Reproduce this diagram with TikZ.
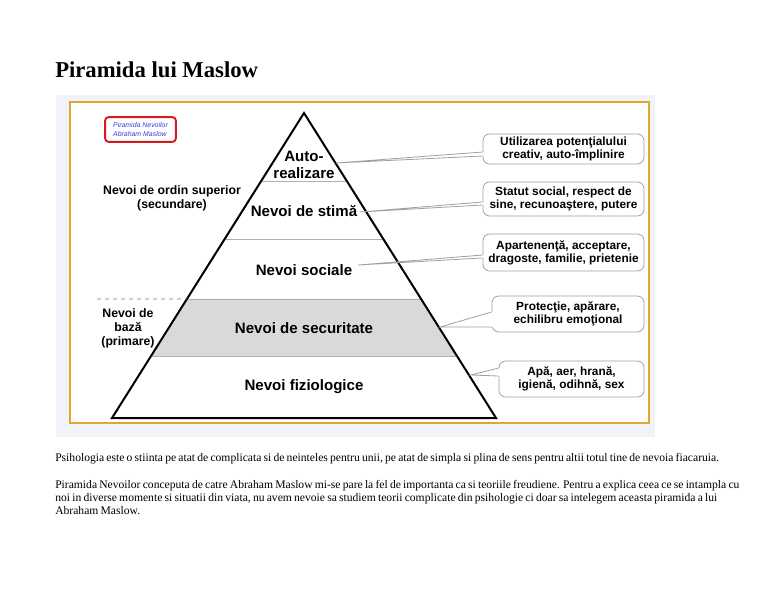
\documentclass[tikz,border=0pt]{standalone}
\usepackage{fontspec}
\setmainfont{Liberation Serif}
\setsansfont{Liberation Sans}
\usetikzlibrary{calc, positioning}
\definecolor{Auriu}{RGB}{224,168,48}
\definecolor{Fundal}{RGB}{240,243,248}
\definecolor{Banda}{RGB}{217,217,217}
\definecolor{Linie}{RGB}{175,175,175}
\definecolor{Chenar}{RGB}{160,160,160}
\definecolor{Rosu}{RGB}{215,25,30}
\definecolor{Albastru}{RGB}{60,60,225}

% coada unei bule: nod, doua decalaje pe latura stanga, varf
\newcommand{\coadabula}[4]{%
  \fill[white] ([shift={(-0.7pt,#2)}]#1.west) rectangle ([shift={(0.7pt,#3)}]#1.west);
  \draw[coada] ([yshift=#2]#1.west) -- (#4) -- ([yshift=#3]#1.west);
}
\newcommand{\spatiudens}{\spaceskip=0.19em plus 0.05em\relax}

\begin{document}
\begin{tikzpicture}[
  x=0.75pt, y=-0.75pt,
  font=\sffamily,
  nivel/.style={font=\sffamily\bfseries\fontsize{11.3}{12.2}\selectfont,
                align=center, inner sep=0pt},
  lateral/.style={font=\sffamily\bfseries\fontsize{9.2}{10.5}\selectfont,
                  align=center, inner sep=0pt},
  bula/.style={draw=Chenar, fill=white, rounded corners=5pt,
               line width=0.6pt, align=center, inner sep=0pt,
               font=\sffamily\bfseries\fontsize{8.9}{9.8}\selectfont},
  coada/.style={draw=Chenar, line width=0.6pt},
  treapta/.style={draw=Linie, line width=0.5pt},
  paragraf/.style={font=\rmfamily\fontsize{8.7}{9.8}\selectfont\spatiudens,
                   align=left, inner sep=0pt, anchor=north west}
]
\useasboundingbox (0,0) rectangle (768,594);

\node[font=\rmfamily\bfseries\fontsize{17}{20}\selectfont,
      anchor=base west, inner sep=0pt] (titlu) at (55,77) {Piramida lui Maslow};

% cadrul imaginii
\fill[Fundal] (56,95) rectangle (655,437);
\draw[Auriu, line width=1.8pt, fill=white] (70,102) rectangle (649,423);

% piramida
\coordinate (varf) at (304,113);
\coordinate (bst)  at (112,418);
\coordinate (bdr)  at (496,418);

\fill[Banda] ($(varf)!0.6098!(bst)$) -- ($(varf)!0.6098!(bdr)$)
          -- ($(varf)!0.7967!(bdr)$) -- ($(varf)!0.7967!(bst)$) -- cycle;
\foreach \t in {0.2230, 0.4131, 0.6098, 0.7967}
  \draw[treapta] ($(varf)!\t!(bst)$) -- ($(varf)!\t!(bdr)$);
\draw[line width=1.5pt, line join=miter] (varf) -- (bst) -- (bdr) -- cycle;

\coordinate (punct) at (97,299);
\draw[Linie!70!black, dashed, line width=0.6pt] (punct) -- ($(varf)!0.6098!(bst)$);

\node[nivel] (auto)    at (304,165) {Auto-\\realizare};
\node[nivel] (stima)   at (304,211) {Nevoi de stimă};
\node[nivel] (sociale) at (304,270) {Nevoi sociale};
\node[nivel] (secur)   at (304,328) {Nevoi de securitate};
\node[nivel] (fizio)   at (304,387) {Nevoi fiziologice};

\node[lateral] (superior) at (172,198) {Nevoi de ordin superior\\(secundare)};
\node[lateral] (baza)     at (128,328) {Nevoi de\\bază\\(primare)};

\node[draw=Rosu, line width=1.4pt, rounded corners=2.5pt,
      minimum width=53pt, minimum height=18.5pt, align=left, inner sep=0pt,
      font=\sffamily\itshape\fontsize{5.2}{7}\selectfont, text=Albastru]
      (eticheta) at (140.5,129.5) {Piramida Nevoilor\\Abraham Maslow};

% bulele din dreapta
\coordinate (v1) at (336,163);
\coordinate (v2) at (360,212);
\coordinate (v3) at (358,265);
\coordinate (v4) at (440,327);
\coordinate (v5) at (471,375);

\node[bula, minimum width=120.75pt, minimum height=22.5pt]  (b1) at (563.5,149)
  {Utilizarea potenţialului\\creativ, auto-împlinire};
\node[bula, minimum width=120.75pt, minimum height=25.5pt]  (b2) at (563.5,199)
  {Statut social, respect de\\sine, recunoaştere, putere};
\node[bula, minimum width=120.75pt, minimum height=27.75pt] (b3) at (563.5,252.5)
  {Apartenenţă, acceptare,\\dragoste, familie, prietenie};
\node[bula, minimum width=114pt, minimum height=27pt]       (b4) at (568,314)
  {Protecţie, apărare,\\echilibru emoţional};
\node[bula, minimum width=108.75pt, minimum height=27pt]    (b5) at (571.5,379)
  {Apă, aer, hrană,\\igienă, odihnă, sex};

\coadabula{b1}{-2.25pt}{-5.25pt}{v1}
\coadabula{b2}{-2.25pt}{-4.5pt}{v2}
\coadabula{b3}{-1.9pt}{-4.1pt}{v3}
\coadabula{b4}{1.5pt}{-9.75pt}{v4}
\coadabula{b5}{8.25pt}{2.25pt}{v5}

% textul de sub imagine
\node[paragraf] (p1) at (55,453) {Psihologia este o stiinta pe atat de complicata si de neinteles pentru unii, pe atat de simpla si plina de sens pentru altii totul tine de nevoia fiacaruia.};
\node[paragraf] (p2) at (55,480) {Piramida Nevoilor conceputa de catre Abraham Maslow mi-se pare la fel de importanta ca si teoriile freudiene. Pentru a explica ceea ce se intampla cu\\
noi in diverse momente si situatii din viata, nu avem nevoie sa studiem teorii complicate din psihologie ci doar sa intelegem aceasta piramida a lui\\
Abraham Maslow.};
\end{tikzpicture}
\end{document}
